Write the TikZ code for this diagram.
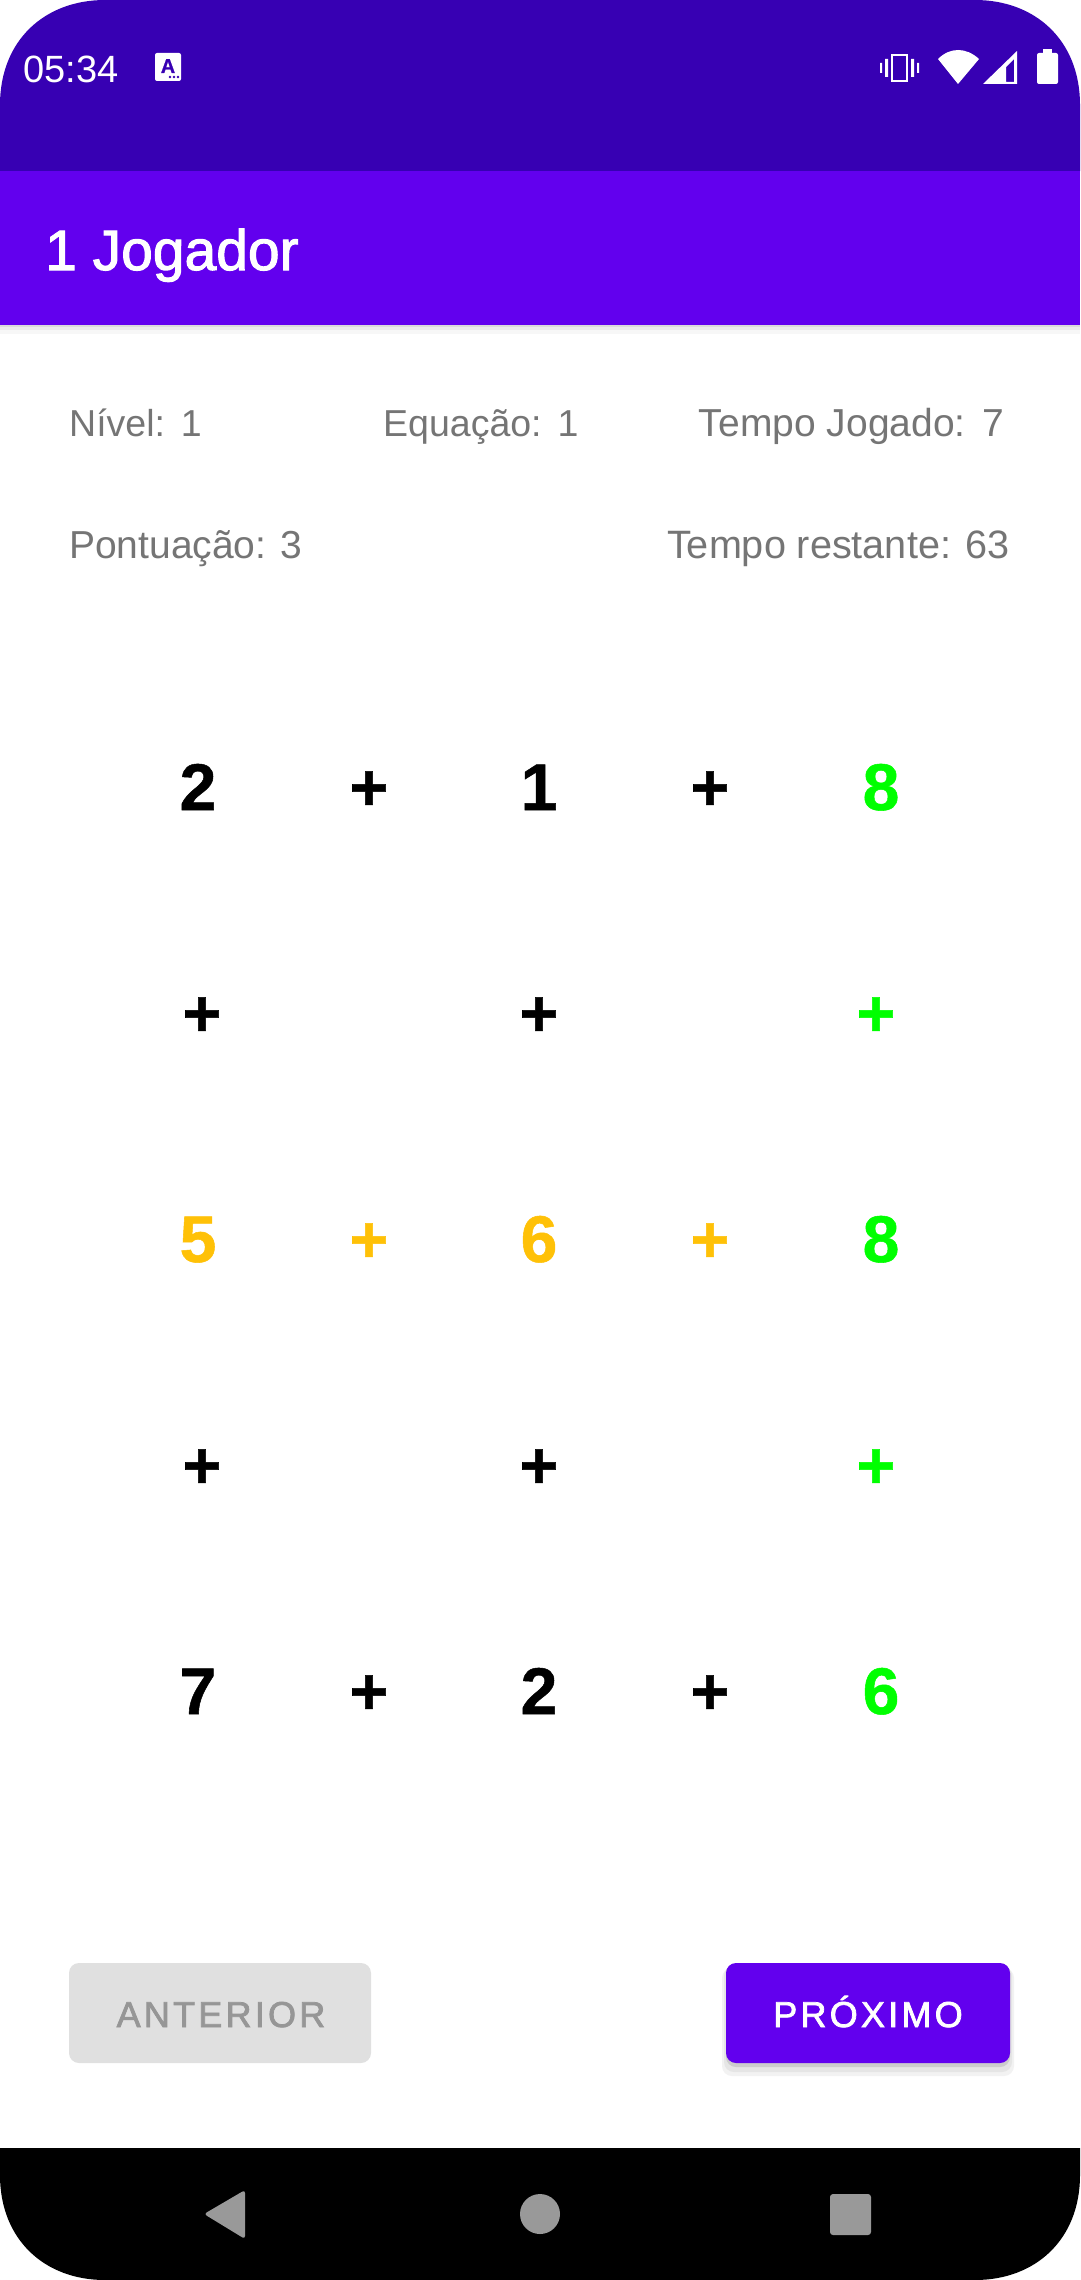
\documentclass[tikz,border=0pt]{standalone}
\usepackage{fontspec}
\setmainfont[BoldFeatures={FakeBold=0.8}]{Liberation Sans}
\newfontfamily\medfont[FakeBold=1.8]{Liberation Sans}
\newfontfamily\btnfont[FakeBold=2,LetterSpace=9]{Liberation Sans}
\usepackage{xcolor}
\usetikzlibrary{positioning}
\definecolor{statusbar}{HTML}{3700B3}
\definecolor{appbar}{HTML}{6200EE}
\definecolor{infotext}{HTML}{757575}
\definecolor{rowgreen}{HTML}{00FF00}
\definecolor{rowamber}{HTML}{FFC107}
\definecolor{btngrey}{HTML}{E0E0E0}
\definecolor{btntext}{HTML}{969696}
\definecolor{navgrey}{HTML}{999999}
\tikzset{
    info/.style={anchor=base west, inner sep=0pt, text=infotext, font=\fontsize{39}{39}\selectfont},
    infosmall/.style={info, font=\fontsize{37.5}{39}\selectfont},
    infor/.style={info, anchor=base east},
    cell/.style={anchor=base, inner sep=0pt, font=\fontsize{66}{66}\selectfont\bfseries},
    btnlabel/.style={anchor=base, inner sep=0pt, font=\fontsize{36}{36}\selectfont\btnfont},
    btn/.style={rounded corners=10, minimum width=0, inner sep=0pt}
}

\begin{document}
\begin{tikzpicture}[x=1pt, y=-1pt]
    \useasboundingbox (0,0) rectangle (1080,2280);
    \fill[white] (0,0) rectangle (1080,2280);
    % bars
    \fill[statusbar] (0,171) -- (0,105) .. controls (0,40) and (45,0) .. (105,0) -- (975,0) .. controls (1035,0) and (1080,40) .. (1080,105) -- (1080,171) -- cycle;
    \fill[appbar] (0,171) rectangle (1080,325);
    \fill[black!14] (0,325) rectangle (1080,327);
    \fill[black!8] (0,327) rectangle (1080,330);
    \fill[black!3] (0,330) rectangle (1080,334);
    \fill[black] (0,2148) -- (1080,2148) -- (1080,2175) .. controls (1080,2240) and (1035,2280) .. (975,2280) -- (105,2280) .. controls (45,2280) and (0,2240) .. (0,2175) -- cycle;
    % status bar
    \node[anchor=base west, inner sep=0pt, text=white, font=\fontsize{38}{38}\selectfont] (clock) at (23,83) {05:34};
    \fill[white, rounded corners=2] (155,53) rectangle (181,81);
    \node[anchor=base, inner sep=0pt, text=statusbar, font=\fontsize{20}{20}\selectfont\bfseries] (keyA) at (168,73) {A};
    \fill[statusbar] (170,77) circle (1.3) (174,77) circle (1.3) (178,77) circle (1.3);
    \draw[white, line width=2] (892,55) rectangle (907,81);
    \fill[white] (885,59) rectangle (888,77) (911,59) rectangle (914,77);
    \fill[white] (880,63) rectangle (882,73) (917,63) rectangle (919,73);
    \fill[white] (958,84) -- (938,59) .. controls (950,47) and (966,47) .. (979,59) -- cycle;
    \fill[white, even odd rule] (983,84) -- (1017,84) -- (1017,51) -- cycle (1006,82) -- (1014,82) -- (1014,59) -- (1006,67) -- cycle;
    \fill[white, rounded corners=2] (1037,53) rectangle (1058,84);
    \fill[white] (1043,49) rectangle (1052,54);
    % title
    \node[anchor=base west, inner sep=0pt, text=white, font=\fontsize{57}{57}\selectfont\medfont] (title) at (45,270) {1 Jogador};
    % info rows
    \node[infosmall] (nivel) at (69,436) {Nível:\hspace{2pt} 1};
    \node[infosmall] (equacao) at (383,436) {Equação:\hspace{2pt} 1};
    \node[infor] (jogado) at (1004,436) {Tempo Jogado:\hspace{2pt} 7};
    \node[info] (pontos) at (69,558) {Pontuação:\hspace{0pt} 3};
    \node[infor, font=\fontsize{39.6}{39}\selectfont] (restante) at (1010,558) {Tempo restante:\hspace{0pt} 63};
    % first row
    \node[cell] (a1) at (198,810) {2};
    \node[cell] (p1) at (369,810) {+};
    \node[cell] (a2) at (539,810) {1};
    \node[cell] (p2) at (710,810) {+};
    \node[cell, text=rowgreen] (a3) at (881,810) {8};
    % second row
    \node[cell] (q1) at (202,1036) {+};
    \node[cell] (q2) at (539,1036) {+};
    \node[cell, text=rowgreen] (q3) at (876,1036) {+};
    % third row
    \node[cell, text=rowamber] (b1) at (198,1262) {5};
    \node[cell, text=rowamber] (r1) at (369,1262) {+};
    \node[cell, text=rowamber] (b2) at (539,1262) {6};
    \node[cell, text=rowamber] (r2) at (710,1262) {+};
    \node[cell, text=rowgreen] (b3) at (881,1262) {8};
    % fourth row
    \node[cell] (s1) at (202,1488) {+};
    \node[cell] (s2) at (539,1488) {+};
    \node[cell, text=rowgreen] (s3) at (876,1488) {+};
    % fifth row
    \node[cell] (c1) at (198,1714) {7};
    \node[cell] (t1) at (369,1714) {+};
    \node[cell] (c2) at (539,1714) {2};
    \node[cell] (t2) at (710,1714) {+};
    \node[cell, text=rowgreen] (c3) at (881,1714) {6};
    % buttons
    \fill[btngrey, btn] (69,1963) rectangle (371,2063);
    \node[btnlabel, text=btntext] (anterior) at (221,2027) {ANTERIOR};
    \fill[black!5, btn] (722,1968) rectangle (1014,2076);
    \fill[black!10, btn] (724,1966) rectangle (1012,2072);
    \fill[black!20, btn] (726,1964) rectangle (1010,2067);
    \fill[appbar, btn] (726,1963) rectangle (1010,2063);
    \node[btnlabel, text=white] (proximo) at (868,2027) {PRÓXIMO};
    % navigation
    \fill[navgrey, rounded corners=3] (245,2190) -- (204,2214) -- (245,2239) -- cycle;
    \fill[navgrey] (540,2214) circle (20);
    \fill[navgrey, rounded corners=3] (830,2194) rectangle (871,2235);
\end{tikzpicture}
\end{document}
